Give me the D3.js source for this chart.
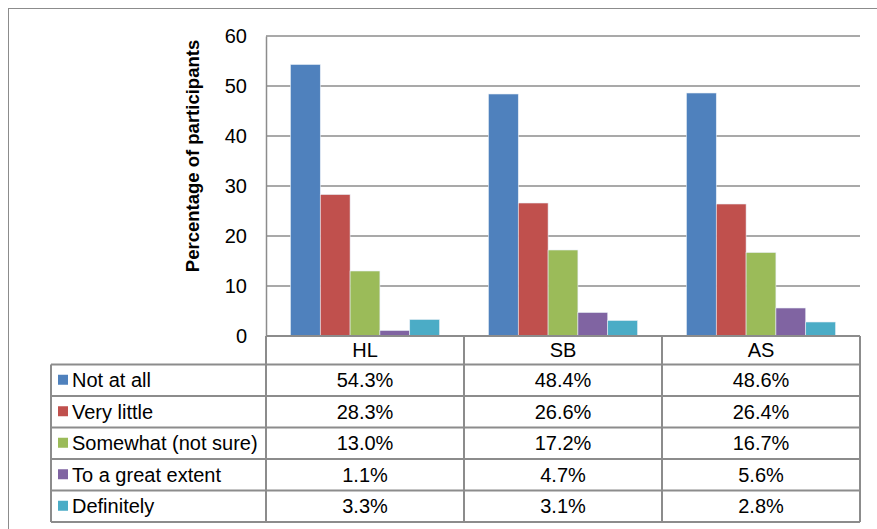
<!DOCTYPE html>
<html>
<head>
<meta charset="utf-8">
<script src="https://cdn.jsdelivr.net/npm/d3@7"></script>
<style>
body{margin:0;background:#fff}
svg{font-family:"Liberation Sans",Arial,sans-serif}
</style>
</head>
<body>
<svg></svg>
<script>
let groups=['HL','SB','AS']
let seriesNames=['Not at all','Very little','Somewhat (not sure)','To a great extent','Definitely']
let notAtAll=[54.3,48.4,48.6]
let veryLittle=[28.3,26.6,26.4]
let somewhat=[13.0,17.2,16.7]
let greatExtent=[1.1,4.7,5.6]
let definitely=[3.3,3.1,2.8]
let yTicks=[0,10,20,30,40,50,60]
let colors=['#4F81BD','#C0504D','#9BBB59','#8064A2','#4BACC6']

let values=[notAtAll,veryLittle,somewhat,greatExtent,definitely]
let width=877, height=529
let svg=d3.select('svg').attr('width',width).attr('height',height)

let plotLeft=266, plotRight=860, plotTop=36, zeroY=336
let rowH=31.5, headH=28.5, tableLeft=51
let fs=20

// outer frame
svg.append('rect').attr('x',8.5).attr('y',8.5).attr('width',width).attr('height',height)
  .attr('fill','none').attr('stroke','#8c8c8c').attr('stroke-width',1)

let xScale=d3.scaleBand().domain(groups).range([plotLeft,plotRight])
let inner=d3.scaleBand().domain(d3.range(5)).range([0,xScale.bandwidth()]).paddingOuter(0.82).paddingInner(0)
let yScale=d3.scaleLinear().domain([0,60]).range([zeroY,plotTop])

// gridlines
svg.append('g').selectAll('line').data(yTicks.filter(d=>d>0)).enter().append('line')
  .attr('x1',plotLeft).attr('x2',plotRight)
  .attr('y1',d=>yScale(d)).attr('y2',d=>yScale(d))
  .attr('stroke','#8c8c8c').attr('stroke-width',1.5)

// y axis labels
let yAxis=d3.axisLeft(yScale).tickValues(yTicks).tickSize(0).tickPadding(19)
let yg=svg.append('g').attr('transform','translate('+plotLeft+',0)').call(yAxis)
yg.select('.domain').attr('stroke','#8c8c8c').attr('stroke-width',1.5)
yg.selectAll('text').attr('font-size',fs).attr('fill','#000').attr('font-family','"Liberation Sans",Arial,sans-serif')

svg.append('text').attr('transform','translate(199,156) rotate(-90)')
  .attr('text-anchor','middle').attr('font-size',18.5).attr('font-weight','bold')
  .text('Percentage of participants')

// bars
values.forEach((series,si)=>{
  svg.append('g').selectAll('rect').data(series).enter().append('rect')
    .attr('x',(d,i)=>xScale(groups[i])+inner(si))
    .attr('width',inner.bandwidth())
    .attr('y',d=>yScale(d))
    .attr('height',d=>zeroY-yScale(d))
    .attr('fill',colors[si])
    .attr('stroke','#e8eef6').attr('stroke-width',0.6)
})

// data table
let tableBottom=zeroY+headH+rowH*5
let tg=svg.append('g')
let lineCol='#8c8c8c'
// horizontal lines
tg.append('line').attr('x1',plotLeft).attr('x2',plotRight).attr('y1',zeroY).attr('y2',zeroY).attr('stroke',lineCol).attr('stroke-width',2)
d3.range(6).forEach(r=>{
  let y=zeroY+headH+r*rowH
  tg.append('line').attr('x1',tableLeft).attr('x2',plotRight).attr('y1',y).attr('y2',y).attr('stroke',lineCol).attr('stroke-width',2)
})
// vertical lines
tg.append('line').attr('x1',tableLeft).attr('x2',tableLeft).attr('y1',zeroY+headH).attr('y2',tableBottom).attr('stroke',lineCol).attr('stroke-width',2)
groups.forEach(g=>{
  tg.append('line').attr('x1',xScale(g)).attr('x2',xScale(g)).attr('y1',zeroY).attr('y2',tableBottom).attr('stroke',lineCol).attr('stroke-width',2)
})
tg.append('line').attr('x1',plotRight).attr('x2',plotRight).attr('y1',zeroY).attr('y2',tableBottom).attr('stroke',lineCol).attr('stroke-width',2)

// header
tg.selectAll('.head').data(groups).enter().append('text')
  .attr('x',d=>xScale(d)+xScale.bandwidth()/2).attr('y',zeroY+headH/2+7)
  .attr('text-anchor','middle').attr('font-size',fs).text(d=>d)

// rows
seriesNames.forEach((name,si)=>{
  let yc=zeroY+headH+si*rowH+rowH/2
  tg.append('rect').attr('x',58).attr('y',yc-5.5).attr('width',10).attr('height',10).attr('fill',colors[si])
  tg.append('text').attr('x',72).attr('y',yc+7).attr('font-size',fs).text(name)
  values[si].forEach((v,i)=>{
    tg.append('text').attr('x',xScale(groups[i])+xScale.bandwidth()/2).attr('y',yc+7)
      .attr('text-anchor','middle').attr('font-size',fs).text(v.toFixed(1)+'%')
  })
})
</script>
</body>
</html>
